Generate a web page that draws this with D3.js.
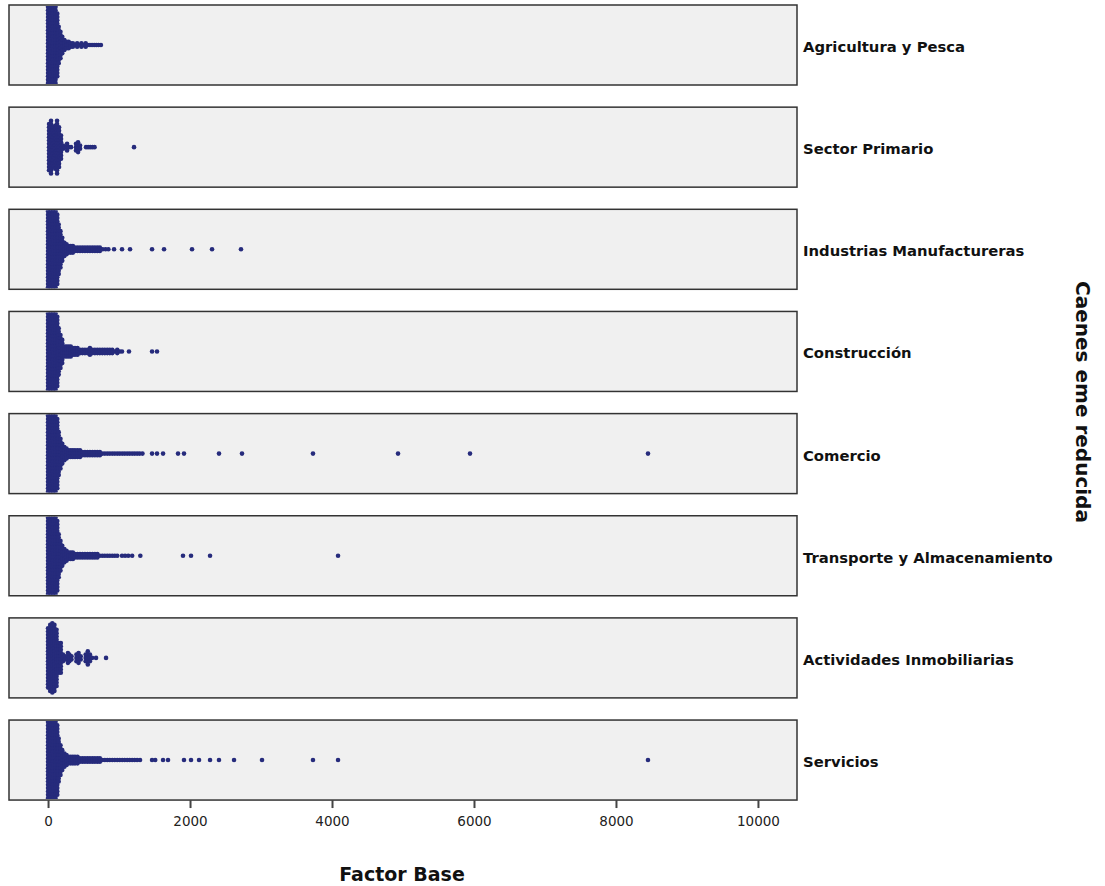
<!DOCTYPE html>
<html>
<head>
<meta charset="utf-8">
<script src="https://cdn.jsdelivr.net/npm/d3@7"></script>
<style>
  body { margin: 0; background: #fff; }
  text { font-family: "DejaVu Sans", "Liberation Sans", Arial, sans-serif; }
</style>
</head>
<body>
<div id="chart"></div>
<script>
// Dot plot of "Factor Base" by sector (one panel per sector)
// each bin is [value, number of stacked dots]

const categories = ["Agricultura y Pesca", "Sector Primario", "Industrias Manufactureras",
  "Construcción", "Comercio", "Transporte y Almacenamiento", "Actividades Inmobiliarias", "Servicios"];

const agricultura = [[0,26],[35,26],[70,26],[105,26],[130,20],[150,12],[175,9],[200,6],[230,4],[260,3],
  [290,3],[320,2],[350,2],[380,1],[410,2],[440,1],[470,2],[500,1],[530,2],[560,1],[590,1],[620,1],[650,1],[680,1],[710,1],[745,1]];

const primario = [[14,15],[42,17],[70,13],[99,14],[127,17],[155,13],[183,8],[211,2],[239,1],[268,3],
  [296,1],[324,1],[394,3],[423,4],[451,2],[535,1],[565,1],[595,1],[625,1],[655,1],[1211,1]];

const industrias = [[0,26],[35,26],[70,26],[105,26],[130,22],[150,16],[175,12],[200,8],[230,5],[260,4],
  [290,3],[320,3],[350,3],[380,2],[415,2],[450,2],[485,2],[520,2],[555,2],[590,2],[625,2],[660,2],[695,2],[730,2],
  [770,1],[810,1],[850,1],[930,1],[1042,1],[1155,1],[1465,1],[1634,1],[2028,1],[2310,1],[2718,1]];

const construccion = [[0,26],[35,26],[70,26],[105,26],[130,22],[150,15],[175,11],[200,8],[230,4],[260,4],
  [290,4],[320,4],[350,3],[380,3],[415,3],[450,2],[485,2],[520,2],[555,2],[590,3],[625,2],[660,2],[695,2],[730,2],
  [765,2],[800,2],[835,2],[870,2],[905,2],[940,1],[975,2],[1010,1],[1042,1],[1140,1],[1465,1],[1535,1]];

const comercio = [[0,26],[35,26],[70,26],[105,26],[130,22],[150,14],[175,10],[200,7],[230,5],[260,4],
  [290,3],[320,3],[350,3],[380,3],[415,3],[450,3],[485,2],[520,2],[555,2],[590,2],[625,2],[660,2],[695,2],[730,2],
  [765,1],[800,1],[835,1],[870,1],[905,1],[940,1],[975,1],[1010,1],[1045,1],[1080,1],[1115,1],[1150,1],
  [1185,1],[1220,1],[1255,1],[1290,1],[1330,1],[1465,1],[1535,1],[1620,1],[1831,1],[1915,1],[2408,1],
  [2732,1],[3732,1],[4930,1],[5944,1],[8451,1]];

const transporte = [[0,26],[35,26],[70,26],[105,26],[130,22],[150,14],[175,10],[200,7],[230,5],[260,4],
  [290,3],[320,3],[350,3],[380,2],[415,2],[450,2],[485,2],[520,2],[555,2],[590,2],[625,2],[660,2],[695,2],[730,1],
  [765,1],[800,1],[835,1],[870,1],[905,1],[940,1],[975,1],[1042,1],[1085,1],[1130,1],[1185,1],[1300,1],
  [1901,1],[2014,1],[2282,1],[4085,1]];

const inmobiliarias = [[0,19],[30,21],[60,22],[90,21],[120,18],[150,10],[180,10],[210,3],[240,2],[280,4],
  [300,3],[330,2],[400,3],[430,4],[460,2],[530,3],[560,5],[590,3],[620,1],[676,1],[817,1]];

const servicios = [[0,26],[35,26],[70,26],[105,26],[130,22],[150,14],[175,10],[200,7],[230,5],[260,4],
  [290,3],[320,3],[350,3],[380,3],[415,3],[450,2],[485,2],[520,2],[555,2],[590,2],[625,2],[660,2],[695,2],[730,2],
  [765,1],[800,1],[835,1],[870,1],[905,1],[940,1],[975,1],[1010,1],[1045,1],[1080,1],[1115,1],[1150,1],
  [1185,1],[1220,1],[1255,1],[1296,1],[1465,1],[1510,1],[1620,1],[1690,1],[1915,1],[2014,1],[2127,1],
  [2282,1],[2408,1],[2620,1],[3014,1],[3732,1],[4085,1],[8451,1]];

const panelData = [agricultura, primario, industrias, construccion, comercio, transporte, inmobiliarias, servicios];
const tickValues = [0, 2000, 4000, 6000, 8000, 10000];

// Figure dimensions
let svgW = 1105, svgH = 886;
let panelLeft = 9, panelRight = 797, panelTop = 5, panelH = 80, panelStep = 102.15;
let dotR = 2.3, dotStep = 3.3;
let dotColor = "#262b7c";

let svg = d3.select("#chart").append("svg")
    .attr("width", svgW)
    .attr("height", svgH);

let x = d3.scaleLinear()
    .domain([-550, 10550])
    .range([panelLeft, panelRight]);

let y = d3.scaleBand()
    .domain(categories)
    .range([panelTop, panelTop + panelStep * categories.length]);

let defs = svg.append("defs");

categories.forEach(function(cat, i) {
    let y0 = y(cat);
    let g = svg.append("g");

    // panel background
    g.append("rect")
        .attr("x", panelLeft).attr("y", y0)
        .attr("width", panelRight - panelLeft).attr("height", panelH)
        .style("fill", "#f0f0f0");

    defs.append("clipPath").attr("id", "clip" + i)
        .append("rect")
        .attr("x", panelLeft).attr("y", y0 + 1)
        .attr("width", panelRight - panelLeft).attr("height", panelH - 2);

    // expand bins into stacked dots, centred on the panel
    let dots = [];
    panelData[i].forEach(function(b) {
        for (let k = 0; k < b[1]; k++) {
            dots.push({v: b[0], off: (k - (b[1] - 1) / 2) * dotStep});
        }
    });

    g.append("g")
        .attr("clip-path", "url(#clip" + i + ")")
        .selectAll("circle")
        .data(dots)
        .enter()
        .append("circle")
        .attr("cx", function(d) { return x(d.v); })
        .attr("cy", function(d) { return y0 + panelH / 2 + d.off; })
        .attr("r", dotR)
        .style("fill", dotColor);

    // panel border
    g.append("rect")
        .attr("x", panelLeft).attr("y", y0)
        .attr("width", panelRight - panelLeft).attr("height", panelH)
        .style("fill", "none")
        .style("stroke", "#333")
        .style("stroke-width", 1.5);

    // category label
    svg.append("text")
        .attr("x", 803)
        .attr("y", y0 + panelH / 2 + 7)
        .style("font-size", "14.8px")
        .style("font-weight", "bold")
        .style("fill", "#111")
        .text(cat);
});

// x axis under the last panel
let axisY = y(categories[categories.length - 1]) + panelH;
let xAxis = svg.append("g")
    .attr("transform", "translate(0," + axisY + ")")
    .call(d3.axisBottom(x).tickValues(tickValues).tickSize(8).tickPadding(8).tickFormat(d3.format("d")));
xAxis.select(".domain").remove();
xAxis.selectAll(".tick line").style("stroke", "#444").style("stroke-width", 2);
xAxis.selectAll(".tick text")
    .style("font-family", "DejaVu Sans, sans-serif")
    .style("font-size", "13.5px")
    .style("fill", "#222");

// axis titles
svg.append("text")
    .attr("x", 402)
    .attr("y", 881)
    .attr("text-anchor", "middle")
    .style("font-size", "19px")
    .style("font-weight", "bold")
    .style("fill", "#111")
    .text("Factor Base");

svg.append("text")
    .attr("transform", "translate(1076,402) rotate(90)")
    .attr("text-anchor", "middle")
    .style("font-size", "20px")
    .style("font-weight", "bold")
    .style("fill", "#111")
    .text("Caenes eme reducida");
</script>
</body>
</html>
